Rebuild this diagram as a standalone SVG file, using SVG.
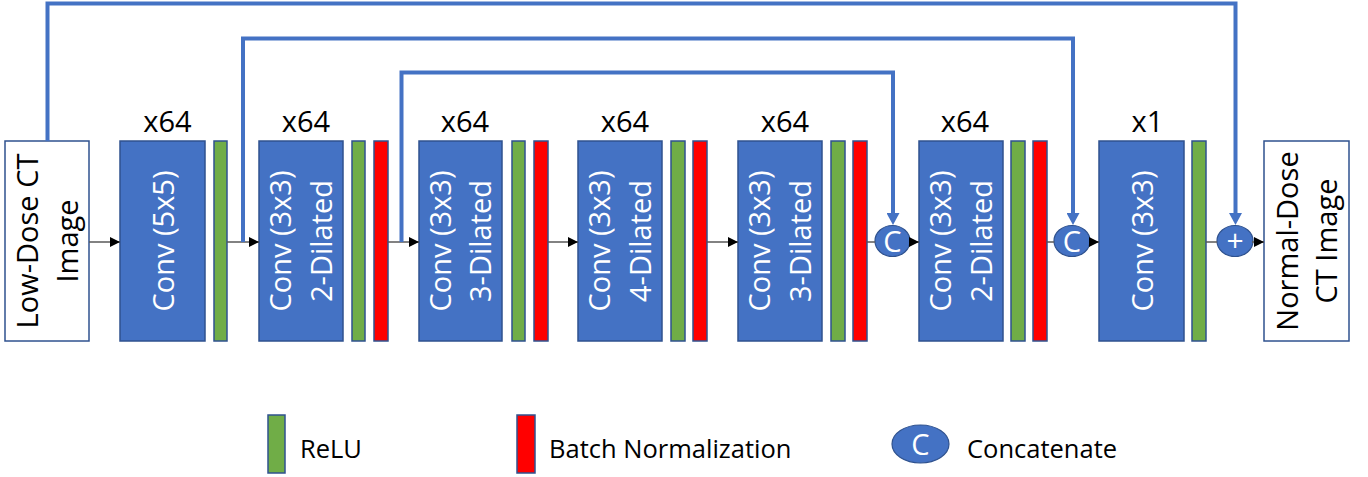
<svg xmlns="http://www.w3.org/2000/svg" width="1368" height="477" viewBox="0 0 1368 477">
<style>
.bg{fill:#ffffff}
.conv{fill:#4472C4;stroke:#2F528F;stroke-width:1.5}
.io{fill:#ffffff;stroke:#2F528F;stroke-width:1.5}
.relu{fill:#70AD47;stroke:#2F528F;stroke-width:1.5}
.bn{fill:#FF0000;stroke:#2F528F;stroke-width:1.5}
.circ{fill:#4472C4;stroke:#2F528F;stroke-width:1.2}
.wt{fill:#ffffff;font-family:"Open Sans","DejaVu Sans",sans-serif;font-size:29px;text-anchor:middle}
.bt{fill:#000000;font-family:"Open Sans","DejaVu Sans",sans-serif;font-size:29px;text-anchor:middle}
.lab{fill:#000000;font-family:"Open Sans","DejaVu Sans",sans-serif;font-size:29px;text-anchor:middle}
.leg{fill:#000000;font-family:"Open Sans","DejaVu Sans",sans-serif;font-size:25.5px}
.main{fill:none;stroke:#595959;stroke-width:1.5}
.skip{fill:none;stroke:#4472C4;stroke-width:4}
</style>
<defs>
<marker id="ah" viewBox="0 0 10 10" refX="10" refY="5" markerWidth="10" markerHeight="10" markerUnits="userSpaceOnUse" orient="auto">
<path d="M0,0 L10,5 L0,10 z" fill="#000000"/>
</marker>
<marker id="bh" viewBox="0 0 12 13" refX="0" refY="6.5" markerWidth="12" markerHeight="13" markerUnits="userSpaceOnUse" orient="auto">
<path d="M0,0 L12,6.5 L0,13 z" fill="#4472C4"/>
</marker>
</defs>
<rect class="bg" x="0" y="0" width="1368" height="477"/>

<g id="input">
<rect class="io" x="5" y="141" width="84" height="200"/>
<g transform="translate(47,241) rotate(-90)"><text class="bt" x="0" y="-9">Low-Dose CT</text><text class="bt" x="0" y="30.5">Image</text></g>
</g>

<g id="conv1">
<text class="lab" x="167.5" y="132">x64</text>
<rect class="conv" x="120" y="141" width="85" height="200"/>
<g transform="translate(162.5,241) rotate(-90)"><text class="wt" x="0" y="11.5">Conv (5x5)</text></g>
</g>
<g id="relu1"><rect class="relu" x="214" y="141" width="13" height="200"/></g>

<g id="conv2">
<text class="lab" x="306" y="132">x64</text>
<rect class="conv" x="259" y="141" width="84" height="200"/>
<g transform="translate(301,241) rotate(-90)"><text class="wt" x="0" y="-10">Conv (3x3)</text><text class="wt" x="0" y="30.5">2-Dilated</text></g>
</g>
<g id="relu2"><rect class="relu" x="352" y="141" width="13" height="200"/></g>
<g id="bn2"><rect class="bn" x="374" y="141" width="14" height="200"/></g>

<g id="conv3">
<text class="lab" x="465" y="132">x64</text>
<rect class="conv" x="419" y="141" width="83" height="200"/>
<g transform="translate(460.5,241) rotate(-90)"><text class="wt" x="0" y="-10">Conv (3x3)</text><text class="wt" x="0" y="30.5">3-Dilated</text></g>
</g>
<g id="relu3"><rect class="relu" x="512" y="141" width="13" height="200"/></g>
<g id="bn3"><rect class="bn" x="534" y="141" width="14" height="200"/></g>

<g id="conv4">
<text class="lab" x="625" y="132">x64</text>
<rect class="conv" x="578" y="141" width="84" height="200"/>
<g transform="translate(620,241) rotate(-90)"><text class="wt" x="0" y="-10">Conv (3x3)</text><text class="wt" x="0" y="30.5">4-Dilated</text></g>
</g>
<g id="relu4"><rect class="relu" x="671" y="141" width="14" height="200"/></g>
<g id="bn4"><rect class="bn" x="693" y="141" width="14" height="200"/></g>

<g id="conv5">
<text class="lab" x="785" y="132">x64</text>
<rect class="conv" x="738" y="141" width="84" height="200"/>
<g transform="translate(780,241) rotate(-90)"><text class="wt" x="0" y="-10">Conv (3x3)</text><text class="wt" x="0" y="30.5">3-Dilated</text></g>
</g>
<g id="relu5"><rect class="relu" x="831" y="141" width="14" height="200"/></g>
<g id="bn5"><rect class="bn" x="853" y="141" width="14" height="200"/></g>

<g id="concat1">
<ellipse class="circ" cx="892.5" cy="241" rx="17.5" ry="15.5"/>
<text class="wt" x="892.5" y="251.5" style="font-size:29px">C</text>
</g>

<g id="conv6">
<text class="lab" x="965" y="132">x64</text>
<rect class="conv" x="919" y="141" width="84" height="200"/>
<g transform="translate(961,241) rotate(-90)"><text class="wt" x="0" y="-10">Conv (3x3)</text><text class="wt" x="0" y="30.5">2-Dilated</text></g>
</g>
<g id="relu6"><rect class="relu" x="1011" y="141" width="14" height="200"/></g>
<g id="bn6"><rect class="bn" x="1033" y="141" width="14" height="200"/></g>

<g id="concat2">
<ellipse class="circ" cx="1072" cy="241" rx="18" ry="15.5"/>
<text class="wt" x="1072" y="251.5" style="font-size:29px">C</text>
</g>

<g id="conv7">
<text class="lab" x="1147.5" y="132">x1</text>
<rect class="conv" x="1099" y="141" width="85" height="200"/>
<g transform="translate(1141.5,241) rotate(-90)"><text class="wt" x="0" y="11.5">Conv (3x3)</text></g>
</g>
<g id="relu7"><rect class="relu" x="1192" y="141" width="14" height="200"/></g>

<g id="add">
<ellipse class="circ" cx="1235" cy="241" rx="18" ry="15.5"/>
<text class="wt" x="1235" y="251" style="font-size:30px">+</text>
</g>

<g id="output">
<rect class="io" x="1264" y="141" width="85" height="200"/>
<g transform="translate(1306.5,241) rotate(-90)"><text class="bt" x="0" y="-9">Normal-Dose</text><text class="bt" x="0" y="30.5">CT Image</text></g>
</g>

<g id="connectors">
<path class="main" d="M89,242 H120" marker-end="url(#ah)"/>
<path class="main" d="M227,242 H259" marker-end="url(#ah)"/>
<path class="main" d="M388,242 H419" marker-end="url(#ah)"/>
<path class="main" d="M548,242 H578" marker-end="url(#ah)"/>
<path class="main" d="M707,242 H738" marker-end="url(#ah)"/>
<path class="main" d="M867,242 H875"/>
<path class="main" d="M909,242 H919" marker-end="url(#ah)"/>
<path class="main" d="M1047,242 H1054"/>
<path class="main" d="M1089,242 H1099" marker-end="url(#ah)"/>
<path class="main" d="M1206,242 H1217"/>
<path class="main" d="M1252,242 H1264" marker-end="url(#ah)"/>
<path class="skip" d="M47.5,141 V3.5 H1235.5 V213" marker-end="url(#bh)"/>
<path class="skip" d="M243,242 V38.5 H1073 V213" marker-end="url(#bh)"/>
<path class="skip" d="M401.5,242 V72.5 H893 V213" marker-end="url(#bh)"/>
</g>

<g id="legend">
<rect class="relu" x="268" y="415" width="17" height="58"/>
<text class="leg" x="300" y="458">ReLU</text>
<rect class="bn" x="517" y="415" width="18" height="58"/>
<text class="leg" x="549" y="458">Batch Normalization</text>
<ellipse class="circ" cx="920.5" cy="444" rx="28.5" ry="19"/>
<text class="wt" x="920.5" y="454.5" style="font-size:29px">C</text>
<text class="leg" x="967" y="458">Concatenate</text>
</g>
</svg>
